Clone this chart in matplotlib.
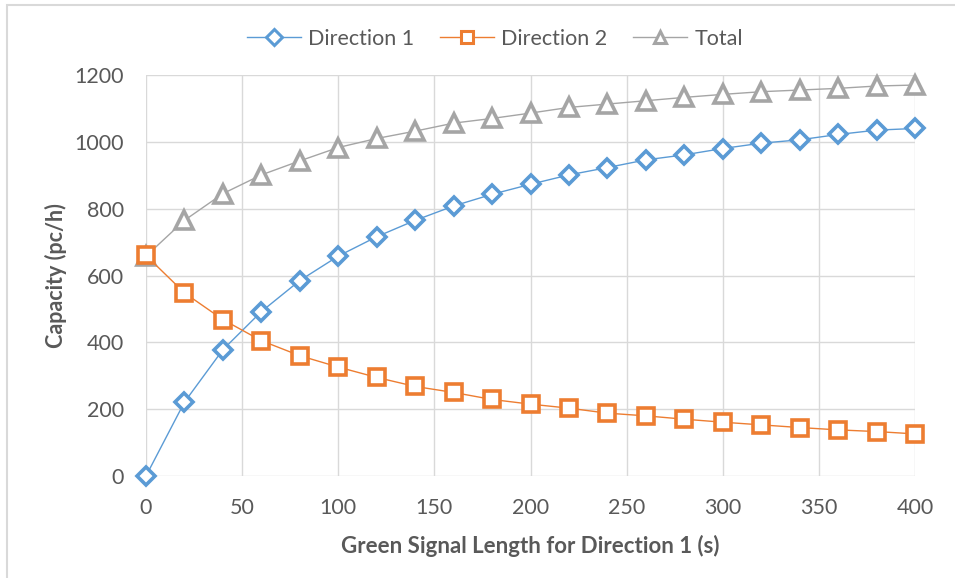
import matplotlib
matplotlib.use("Agg")
import matplotlib.pyplot as plt
from matplotlib.patches import Rectangle

# Green time for direction 1 (s)
green = [0, 20, 40, 60, 80, 100, 120, 140, 160, 180, 200,
         220, 240, 260, 280, 300, 320, 340, 360, 380, 400]
dir1 = [0, 221, 378, 492, 585, 658, 716, 765, 808, 843, 873,
        901, 923, 946, 961, 980, 996, 1006, 1022, 1035, 1040]
dir2 = [660, 548, 468, 405, 360, 326, 295, 268, 250, 229, 215,
        203, 188, 180, 170, 161, 153, 145, 138, 133, 126]
total = [658, 765, 845, 901, 943, 983, 1010, 1032, 1056, 1070, 1086,
         1103, 1113, 1123, 1133, 1142, 1150, 1155, 1160, 1167, 1170]

series_names = ["Direction 1", "Direction 2", "Total"]
xticks = list(range(0, 401, 50))
yticks = list(range(0, 1201, 200))

BLUE, ORANGE, GRAY = "#5B9BD5", "#ED7D31", "#A5A5A5"
TXT = "#595959"
plt.rcParams["font.family"] = ["Lato", "DejaVu Sans"]

fig = plt.figure(figsize=(9.55, 5.78), dpi=100)
fig.patch.set_facecolor("white")
# chart border (only top/left visible in the crop)
fig.patches.append(Rectangle((7 / 955, -0.1), 1.2, 1 - 5 / 578 + 0.1,
                             transform=fig.transFigure, fill=False,
                             edgecolor="#D9D9D9", linewidth=1.5))

ax = fig.add_axes([146 / 955, 1 - 476 / 578, 769 / 955, 401 / 578])

ax.plot(green, dir1, color=BLUE, lw=1.0, marker="D", ms=9.5, mfc="white",
        mec=BLUE, mew=2.6, label=series_names[0], clip_on=False, zorder=3)
ax.plot(green, dir2, color=ORANGE, lw=1.0, marker="s", ms=12, mfc="white",
        mec=ORANGE, mew=2.6, label=series_names[1], clip_on=False, zorder=3)
ax.plot(green, total, color=GRAY, lw=1.0, marker="^", ms=13, mfc="white",
        mec=GRAY, mew=2.6, label=series_names[2], clip_on=False, zorder=2)

ax.set_xlim(0, 400)
ax.set_ylim(0, 1200)
ax.set_xticks(xticks)
ax.set_yticks(yticks)
ax.grid(True, color="#D9D9D9", lw=1.0, zorder=0)
ax.set_axisbelow(True)
for s in ax.spines.values():
    s.set_visible(False)
ax.tick_params(length=0, labelsize=15.5, labelcolor=TXT)
ax.tick_params(axis="y", pad=16)
ax.tick_params(axis="x", pad=16)

ax.set_xlabel("Green Signal Length for Direction 1 (s)", fontsize=16,
              fontweight="bold", color=TXT, labelpad=12)
ax.set_ylabel("Capacity (pc/h)", fontsize=15.5, fontweight="bold", color=TXT,
              labelpad=5)

leg = ax.legend(loc="center", bbox_to_anchor=((495 - 146) / 769, 1 + 36 / 401),
                ncol=3, frameon=False, fontsize=15.5, handlelength=2.5,
                columnspacing=1.2, handletextpad=0.35, borderaxespad=0,
                borderpad=0)
for t in leg.get_texts():
    t.set_color(TXT)
for h in leg.legend_handles:
    h.set_markersize(8)
    h.set_markeredgewidth(2.2)

fig.savefig("out.png", dpi=100, facecolor="white")
